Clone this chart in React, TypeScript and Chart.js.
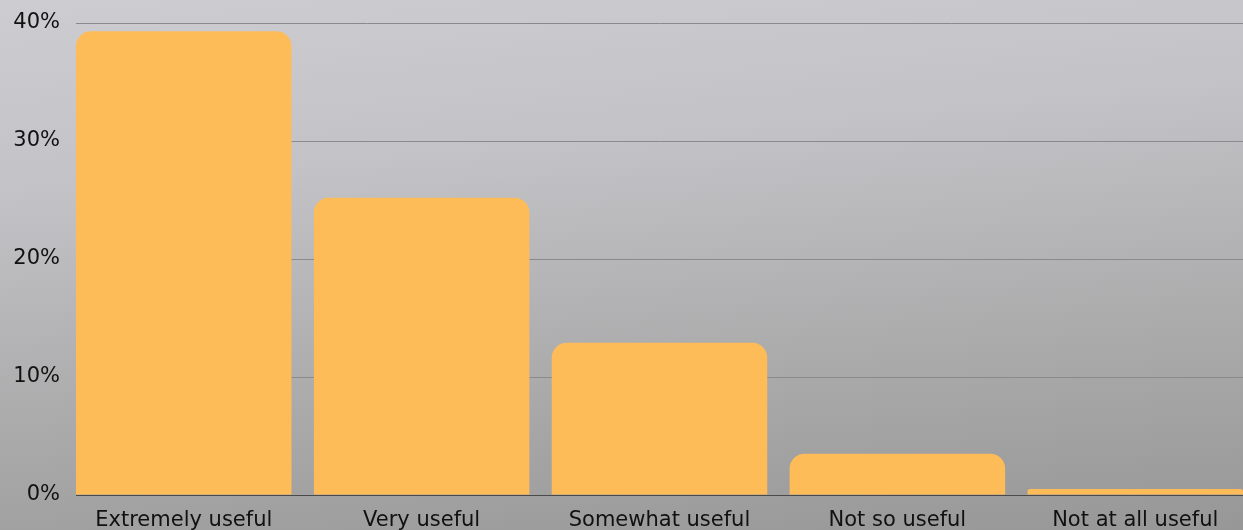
import React, { useEffect, useRef } from "react";
import { Chart, registerables } from "chart.js";

Chart.register(...registerables);

const categories = ["Extremely useful", "Very useful", "Somewhat useful", "Not so useful", "Not at all useful"];
const values = [39.3, 25.2, 12.9, 3.5, 0.5];
const yTicks = [0, 10, 20, 30, 40];

const BAR_FRACTION = 0.906;
const FONT = "'DejaVu Sans', sans-serif";

export default function App() {
  const ref = useRef<HTMLCanvasElement | null>(null);

  useEffect(() => {
    document.body.style.margin = "0";
    const ctx = ref.current!;
    const chart = new Chart(ctx, {
      type: "bar",
      data: {
        datasets: [
          {
            data: values.map((v, i) => ({ x: i, y: v })),
            backgroundColor: "#FEBC59",
            borderRadius: 15,
            borderSkipped: "start",
            categoryPercentage: 1,
            barPercentage: BAR_FRACTION,
          },
        ],
      },
      options: {
        animation: false,
        responsive: true,
        maintainAspectRatio: false,
        layout: { padding: { top: 23, right: 0, left: 0, bottom: 0 } },
        plugins: { legend: { display: false }, tooltip: { enabled: false } },
        scales: {
          x: {
            type: "linear",
            offset: false,
            min: -BAR_FRACTION / 2,
            max: categories.length - 1 + BAR_FRACTION / 2,
            afterBuildTicks: (s: any) => {
              s.ticks = categories.map((_, i) => ({ value: i }));
            },
            afterFit: (s: any) => {
              s.height = 35;
              s.paddingLeft = 0;
              s.paddingRight = 0;
            },
            grid: { display: false, offset: false, drawTicks: false },
            border: { display: true, color: "#4a4a4a", width: 1 },
            ticks: {
              autoSkip: false,
              maxRotation: 0,
              padding: 13,
              color: "#111111",
              font: { family: FONT, size: 21 },
              callback: (v: any) => categories[Number(v)] ?? "",
            },
          },
          y: {
            min: yTicks[0],
            max: yTicks[yTicks.length - 1],
            afterBuildTicks: (s: any) => {
              s.ticks = yTicks.map((v) => ({ value: v }));
            },
            afterFit: (s: any) => {
              s.width = 76;
              s.paddingTop = 0;
              s.paddingBottom = 0;
            },
            grid: { color: "#8a8a8c", lineWidth: 1, drawTicks: false },
            border: { display: false },
            ticks: {
              padding: 16,
              color: "#111111",
              font: { family: FONT, size: 21 },
              callback: (v: any) => v + "%",
            },
          },
        },
      },
    });
    return () => chart.destroy();
  }, []);

  return (
    <div
      style={{
        width: "1243px",
        height: "530px",
        position: "relative",
        background: "linear-gradient(175deg, #cdcdd1 0%, #c3c3c7 30%, #acacad 65%, #979797 100%)",
      }}
    >
      <canvas ref={ref} />
    </div>
  );
}
